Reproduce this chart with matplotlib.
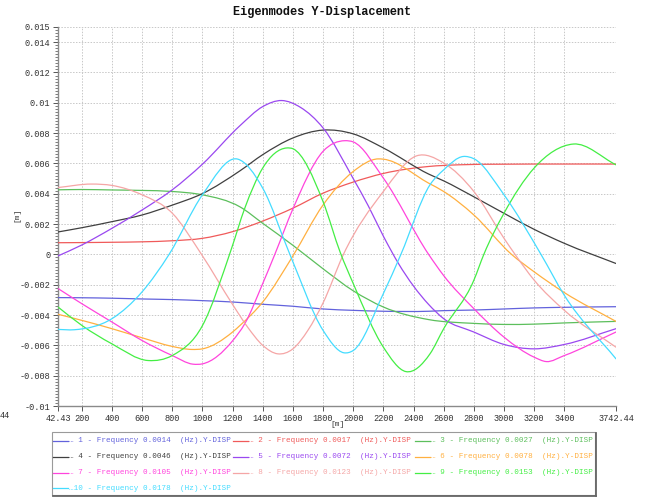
import matplotlib
matplotlib.use("Agg")
import matplotlib.pyplot as plt
from matplotlib.lines import Line2D
from matplotlib.patches import Rectangle, PathPatch
from matplotlib.path import Path
from matplotlib.ticker import FixedLocator, MultipleLocator

# ---- data: Y-displacement [m] of each eigenmode along the chainage [m] ----
x_mode1 = [42.43, 200, 400, 600, 800, 1000, 1200, 1400, 1600, 1800, 2000, 2200, 2500, 2600, 2800, 3000, 3200, 3400, 3742.44]
y_mode1 = [-0.00285, -0.00286, -0.00289, -0.00294, -0.00298, -0.00305, -0.00314, -0.00329, -0.00342, -0.0036, -0.00369, -0.00375, -0.00375, -0.00371, -0.00367, -0.0036, -0.00353, -0.00349, -0.00345]

x_mode2 = [42.43, 200, 400, 600, 800, 1000, 1200, 1400, 1600, 1800, 2000, 2200, 2500, 2700, 3000, 3400, 3742.44]
y_mode2 = [0.00077, 0.00078, 0.0008, 0.00083, 0.0009, 0.00106, 0.0015, 0.0022, 0.00305, 0.00404, 0.00477, 0.00534, 0.0058, 0.00591, 0.00595, 0.00596, 0.00596]

x_mode3 = [42.43, 200, 400, 600, 800, 1000, 1250, 1400, 1600, 1800, 2000, 2200, 2500, 2800, 3000, 3200, 3400, 3742.44]
y_mode3 = [0.00426, 0.00428, 0.00425, 0.00422, 0.00415, 0.00393, 0.00313, 0.00205, 0.0006, -0.00095, -0.0024, -0.00347, -0.0043, -0.00455, -0.00462, -0.0046, -0.00452, -0.00442]

x_mode4 = [42.43, 200, 400, 600, 800, 1000, 1250, 1400, 1600, 1800, 2000, 2200, 2500, 2600, 2800, 3000, 3200, 3400, 3742.44]
y_mode4 = [0.00148, 0.00176, 0.00216, 0.0026, 0.00325, 0.00401, 0.00552, 0.00658, 0.00768, 0.0082, 0.00795, 0.00702, 0.0053, 0.00485, 0.0038, 0.00271, 0.00165, 0.00073, -0.0006]

x_mode5 = [42.43, 200, 400, 600, 800, 1000, 1250, 1400, 1525, 1650, 1800, 2000, 2100, 2200, 2300, 2500, 2600, 2800, 3000, 3200, 3400, 3742.44]
y_mode5 = [-0.0001, 0.00062, 0.00172, 0.00293, 0.00426, 0.00595, 0.0085, 0.00975, 0.01015, 0.0097, 0.00834, 0.005, 0.0032, 0.0012, -0.0006, -0.0033, -0.00424, -0.00512, -0.00594, -0.00623, -0.00594, -0.0049]

x_mode6 = [42.43, 200, 400, 600, 800, 930, 1000, 1200, 1250, 1400, 1600, 1800, 2000, 2164, 2200, 2500, 2600, 2800, 3050, 3200, 3400, 3742.44]
y_mode6 = [-0.00395, -0.00435, -0.0049, -0.0055, -0.00607, -0.00627, -0.00623, -0.00512, -0.00468, -0.00314, -0.0001, 0.00326, 0.00547, 0.0063, 0.00628, 0.0047, 0.00415, 0.0026, 0.0, -0.00115, -0.00252, -0.00442]

x_mode7 = [42.43, 200, 400, 600, 800, 937, 1000, 1200, 1281, 1400, 1480, 1600, 1800, 1944, 2000, 2200, 2500, 2600, 2800, 3000, 3200, 3280, 3400, 3742.44]
y_mode7 = [-0.00225, -0.00325, -0.00446, -0.00568, -0.00667, -0.00724, -0.00722, -0.0057, -0.00457, -0.00192, 0.0, 0.003, 0.0068, 0.0075, 0.00742, 0.00503, 0.0, -0.0014, -0.00358, -0.00546, -0.00678, -0.00707, -0.00667, -0.00512]

x_mode8 = [42.43, 264, 400, 600, 800, 994, 1200, 1300, 1400, 1500, 1600, 1700, 1800, 1935, 2200, 2420, 2600, 2800, 3000, 3073, 3200, 3400, 3742.44]
y_mode8 = [0.00441, 0.00464, 0.00455, 0.00393, 0.00272, 0.0, -0.0033, -0.0048, -0.006, -0.00656, -0.00623, -0.005, -0.0032, 0.0, 0.00415, 0.0065, 0.00603, 0.00415, 0.00106, 0.0, -0.0017, -0.00369, -0.00612]

x_mode9 = [42.43, 200, 400, 640, 800, 1000, 1190, 1281, 1400, 1558, 1600, 1800, 1915, 2000, 2200, 2349, 2509, 2600, 2800, 2866, 3000, 3200, 3460, 3742.44]
y_mode9 = [-0.00347, -0.00468, -0.0059, -0.007, -0.00667, -0.0047, 0.0003, 0.00305, 0.0057, 0.00702, 0.00697, 0.00348, 0.0001, -0.00192, -0.00612, -0.00773, -0.00656, -0.0049, -0.0017, 0.0, 0.00272, 0.0057, 0.00728, 0.00591]

x_mode10 = [42.43, 150, 400, 600, 779, 1000, 1232, 1400, 1580, 1800, 1938, 2000, 2200, 2316, 2509, 2600, 2730, 2800, 3000, 3245, 3400, 3742.44]
y_mode10 = [-0.00495, -0.00497, -0.00424, -0.00247, 0.0, 0.00393, 0.00629, 0.00437, 0.0, -0.00501, -0.00649, -0.00634, -0.00258, 0.0, 0.00459, 0.00558, 0.00646, 0.00631, 0.00393, 0.0, -0.0027, -0.00689]

mode_numbers = [1, 2, 3, 4, 5, 6, 7, 8, 9, 10]
frequencies = ["0.0014", "0.0017", "0.0027", "0.0046", "0.0072",
               "0.0078", "0.0105", "0.0123", "0.0153", "0.0178"]
mode_colors = ["#6262dc", "#f05a5a", "#5cbf5c", "#404040", "#9a48f0",
               "#ffb040", "#ff44dd", "#f5a6a6", "#44ee44", "#44dcff"]

x_ticks = [42.43, 200, 400, 600, 800, 1000, 1200, 1400, 1600, 1800, 2000,
           2200, 2400, 2600, 2800, 3000, 3200, 3400, 3742.44]
x_tick_labels = ["42.43", "200", "400", "600", "800", "1000", "1200", "1400",
                 "1600", "1800", "2000", "2200", "2400", "2600", "2800", "3000",
                 "3200", "3400", "3742.44"]
y_ticks = [-0.01, -0.008, -0.006, -0.004, -0.002, 0.0, 0.002, 0.004, 0.006,
           0.008, 0.01, 0.012, 0.014, 0.015]
y_tick_labels = ["-0.01", "-0.008", "-0.006", "-0.004", "-0.002", "0", "0.002",
                 "0.004", "0.006", "0.008", "0.01", "0.012", "0.014", "0.015"]

xs = [x_mode1, x_mode2, x_mode3, x_mode4, x_mode5, x_mode6, x_mode7, x_mode8, x_mode9, x_mode10]
ys = [y_mode1, y_mode2, y_mode3, y_mode4, y_mode5, y_mode6, y_mode7, y_mode8, y_mode9, y_mode10]


def tangents(x, y):
    """Three-point (non-uniform) derivative at each sample."""
    n = len(x)
    h = [x[i + 1] - x[i] for i in range(n - 1)]
    d = [(y[i + 1] - y[i]) / h[i] for i in range(n - 1)]
    m = [0.0] * n
    m[0], m[-1] = d[0], d[-1]
    for k in range(1, n - 1):
        m[k] = (h[k] * d[k - 1] + h[k - 1] * d[k]) / (h[k - 1] + h[k])
    return m


def smooth_path(x, y):
    """Cubic Bezier path through the samples (Hermite tangents)."""
    m = tangents(x, y)
    verts = [(x[0], y[0])]
    codes = [Path.MOVETO]
    for i in range(len(x) - 1):
        dx = (x[i + 1] - x[i]) / 3.0
        verts += [(x[i] + dx, y[i] + m[i] * dx),
                  (x[i + 1] - dx, y[i + 1] - m[i + 1] * dx),
                  (x[i + 1], y[i + 1])]
        codes += [Path.CURVE4] * 3
    return Path(verts, codes)


MONO = "Liberation Mono"
W, H = 645, 500

fig = plt.figure(figsize=(W / 100, H / 100), dpi=100)
fig.patch.set_facecolor("white")

# plot area in pixel units: left 58, right 616, top 27, bottom 406
ax = fig.add_axes([58 / W, 1 - 406 / H, (616 - 58) / W, (406 - 27) / H])

for xv, yv, c in zip(xs, ys, mode_colors):
    ax.add_patch(PathPatch(smooth_path(xv, yv), facecolor="none", edgecolor=c,
                           lw=0.9, zorder=3, capstyle="round", joinstyle="round"))

ax.set_xlim(42.43, 3742.44)
ax.set_ylim(-0.01, 0.015)

ax.xaxis.set_major_locator(FixedLocator(x_ticks))
ax.set_xticklabels(x_tick_labels)
ax.yaxis.set_major_locator(FixedLocator(y_ticks))
ax.set_yticklabels(y_tick_labels)
ax.yaxis.set_minor_locator(MultipleLocator(0.0002))

for lab in ax.get_xticklabels() + ax.get_yticklabels():
    lab.set_fontfamily(MONO)
    lab.set_fontsize(6.2)
    lab.set_color("#333333")

ax.tick_params(axis="both", which="major", length=3.5, width=0.7, color="#555555", pad=2)
ax.tick_params(axis="y", which="minor", length=2, width=0.6, color="#666666")
ax.tick_params(axis="x", which="minor", length=0)

ax.grid(True, which="major", color="#c8c8c8", linestyle=(0, (1.5, 1.5)), linewidth=0.7, zorder=0)

for side in ("top", "right"):
    ax.spines[side].set_visible(False)
for side in ("left", "bottom"):
    ax.spines[side].set_color("#8a8a8a")
    ax.spines[side].set_linewidth(1.0)

# titles and axis labels
fig.text(322 / W, 1 - 12 / H, "Eigenmodes Y-Displacement", family=MONO,
         fontweight="bold", fontsize=8.6, color="#111111", ha="center", va="center")
fig.text(17 / W, 1 - 215 / H, "[m]", family=MONO, fontsize=5.8, color="#333333",
         rotation=90, ha="center", va="center")
fig.text(338 / W, 1 - 424 / H, "[m]", family=MONO, fontsize=5.8, color="#333333",
         ha="center", va="center")
fig.text(0 / W, 1 - 415 / H, "44", family=MONO, fontsize=6.2, color="#333333",
         ha="left", va="center")

# legend box: three columns, entries filled row by row
box_l, box_r, box_t, box_b = 52, 595, 432, 495
fig.patches.append(Rectangle((box_l / W, 1 - box_b / H), (box_r - box_l) / W,
                             (box_b - box_t) / H, transform=fig.transFigure,
                             facecolor="white", edgecolor="#9a9a9a", lw=0.8, zorder=1))
fig.lines.append(Line2D([(box_r + 0.8) / W, (box_r + 0.8) / W],
                        [1 - (box_t + 1) / H, 1 - (box_b + 0.8) / H],
                        transform=fig.transFigure, color="#666666", lw=1.3, zorder=2))
fig.lines.append(Line2D([(box_l + 1) / W, (box_r + 0.8) / W],
                        [1 - (box_b + 0.8) / H, 1 - (box_b + 0.8) / H],
                        transform=fig.transFigure, color="#666666", lw=1.3, zorder=2))

col_x = [53, 233, 415]
row_y = [440.5, 456.5, 472.5, 488.3]
for i, (num, freq, c) in enumerate(zip(mode_numbers, frequencies, mode_colors)):
    r, k = divmod(i, 3)
    x0, y0 = col_x[k], row_y[r]
    fig.lines.append(Line2D([x0 / W, (x0 + 15) / W], [1 - y0 / H, 1 - y0 / H],
                            transform=fig.transFigure, color=c, lw=0.9, zorder=3))
    fig.text((x0 + 16) / W, 1 - y0 / H,
             "\u2026%2d - Frequency %s  (Hz).Y-DISP" % (num, freq),
             family=MONO, fontsize=5.5, color=c, ha="left", va="center", zorder=3)

fig.savefig("out.png", dpi=100, facecolor="white")
